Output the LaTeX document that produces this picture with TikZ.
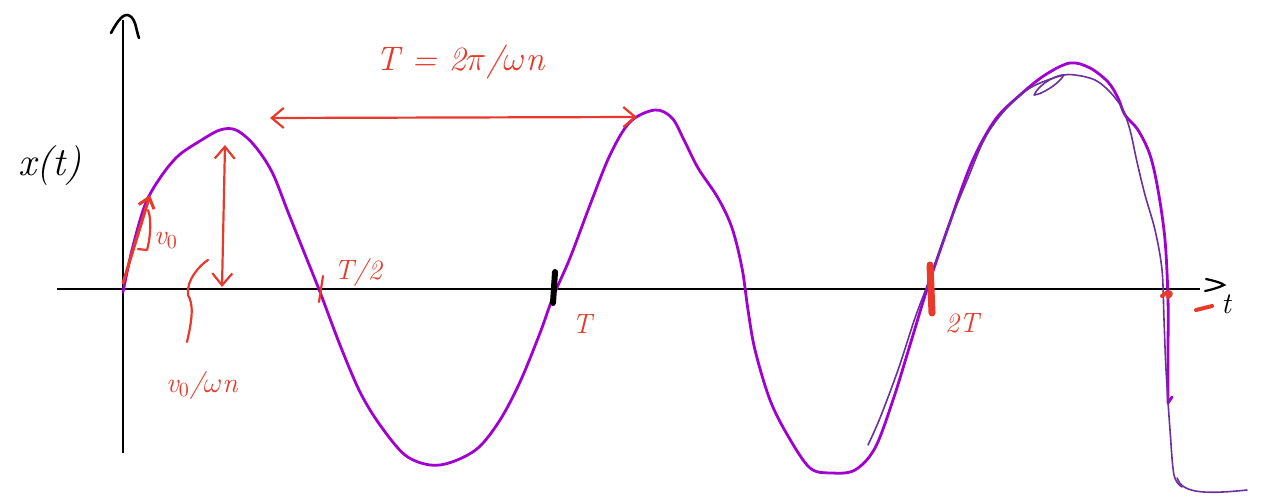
\documentclass[tikz,border=0pt]{standalone}
\usepackage{fontspec}
\usetikzlibrary{arrows.meta}
\definecolor{inkred}{HTML}{E8392A}
\definecolor{inkpurple}{HTML}{A000D0}
\definecolor{inkdark}{HTML}{6A30A0}
\tikzset{
  axis/.style={line width=1pt, black},
  curve/.style={line width=1.4pt, inkpurple, line cap=round, line join=round},
  thin curve/.style={line width=0.8pt, inkdark, line cap=round, line join=round},
  redink/.style={line width=1.1pt, inkred, line cap=round, line join=round},
  redlabel/.style={text=inkred, font=\fontsize{14}{16}\selectfont\itshape, inner sep=1pt},
  blacklabel/.style={text=black, font=\fontsize{15}{18}\selectfont\itshape, inner sep=1pt},
  dbl/.style={redink, {Straight Barb[length=6pt,width=10pt]}-{Straight Barb[length=6pt,width=10pt]}},
}
\begin{document}
\begin{tikzpicture}[x=0.5pt,y=-0.5pt]
\useasboundingbox (0,0) rectangle (1261,497);
% axes
\coordinate (yb) at (123,453);
\coordinate (yt) at (123,20);
\coordinate (xl) at (57,289);
\coordinate (xr) at (1200,289);
\draw[axis] (yb) -- (yt);
\draw[axis] (xl) -- (xr);
\draw[axis, line width=1.3pt, line cap=round] (111,33) .. controls (118,20) and (124,12) .. (130,16) .. controls (136,20) and (136,30) .. (139,38);
\draw[axis, line width=1.1pt, line cap=round] (1206,279) .. controls (1215,281) and (1222,283) .. (1224,285) .. controls (1218,288) and (1210,290) .. (1205,291);
\node[blacklabel] (tlab) at (1226,304) {t};
\node[blacklabel, font=\fontsize{20}{24}\selectfont\itshape] (xlab) at (50,166) {x(t)};

% main purple curve
\draw[curve] plot[smooth, tension=0.55] coordinates {
 (123,292) (132,250) (145,205) (160,178) (178,156) (200,141) (220,130) (236,130) (254,145) (272,172) (288,212) (304,252) (320,292)
 (340,345) (360,392) (380,425) (405,455) (430,465) (452,462) (478,448) (500,420) (520,382) (540,333) (553,297)
 (570,258) (590,205) (610,155) (630,122) (655,110) (672,118) (684,140) (698,168) (718,198) (732,228) (742,268) (748,310) (755,350)
 (770,400) (788,436) (810,468) (832,473) (855,470) (875,448) (893,400) (910,345) (928,286) (950,222) (972,162) (995,120)
 (1020,95) (1045,75) (1070,63) (1090,68) (1108,82) (1118,98) (1125,115) (1138,130) (1150,155) (1158,190) (1165,240) (1168,300) (1168,350) (1168,403)};
\draw[curve] (1168,403) -- (1172,397);
% thin second stroke
\draw[thin curve] plot[smooth, tension=0.55] coordinates {
 (868,445) (880,418) (898,370) (915,318) (930,278) (950,222) (968,178) (985,138) (1005,110) (1030,88) (1060,76) (1075,75)
 (1095,80) (1110,92) (1122,108) (1130,130) (1137,162) (1145,195) (1155,230) (1162,270) (1164,320) (1166,370) (1170,430) (1174,475) (1182,487)};
\draw[thin curve] (1034,95) .. controls (1040,82) and (1060,74) .. (1064,75) .. controls (1058,85) and (1040,95) .. (1034,95);
\draw[thin curve] (1177,478) .. controls (1182,492) and (1200,495) .. (1247,490);

% T/2 and T ticks
\draw[redink] (323,276) -- (319,302);
\node[redlabel] (thalf) at (358,272) {T/2};
\draw[line width=3pt, black, line cap=round] (555,272) -- (553,303);
\node[redlabel] (tone) at (582,324) {T};
\draw[line width=3.5pt, inkred, line cap=round] (930,265) -- (932,313);
\node[redlabel] (ttwo) at (962,323) {2T};
\draw[redink, line width=2pt] (1162,296) .. controls (1168,290) and (1175,292) .. (1168,297);
\draw[redink, line width=2pt] (1196,310) -- (1212,306);

% period arrow
\coordinate (pl) at (270,118);
\coordinate (pr) at (637,117);
\draw[dbl] (pl) -- (pr);
\node[redlabel, font=\fontsize{17}{20}\selectfont\itshape] (plab) at (460,62) {T = 2$\pi$/$\omega$n};

% amplitude arrow
\coordinate (at) at (225,145);
\coordinate (ab) at (222,287);
\draw[dbl] (at) -- (ab);
\draw[redink] (187,342) .. controls (192,320) and (194,305) .. (188,295) .. controls (186,280) and (200,265) .. (208,260);
\node[redlabel] (amp) at (202,385) {v$_0$/$\omega$n};

% initial slope
\coordinate (s0) at (123,283);
\coordinate (s1) at (150,195);
\draw[redink, line width=1.5pt, -{Straight Barb[length=5pt,width=8pt]}] (s0) -- (s1);
\draw[redink] (148,210) .. controls (152,220) and (150,240) .. (147,250) -- (138,249);
\node[redlabel] (vnot) at (166,240) {v$_0$};
\end{tikzpicture}
\end{document}
